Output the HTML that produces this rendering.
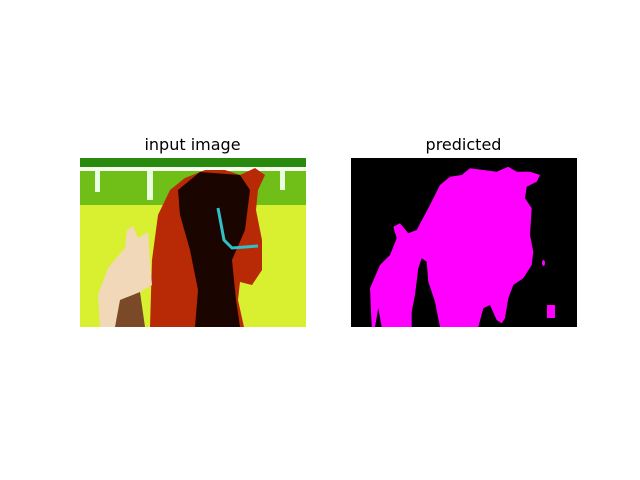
<!DOCTYPE html>
<html><head><meta charset="utf-8"><style>
body{margin:0;background:#fff;}
svg{display:block;font-family:"DejaVu Sans","Liberation Sans",sans-serif;}
</style></head><body>
<svg width="640" height="480" viewBox="0 0 640 480">
<rect width="640" height="480" fill="#fff"/>
<text x="192.5" y="150" font-size="16" text-anchor="middle">input image</text>
<text x="463.5" y="150" font-size="16" text-anchor="middle">predicted</text>
<g>
<defs><clipPath id="c1"><rect x="80" y="158" width="226" height="169"/></clipPath></defs>
<g clip-path="url(#c1)">
<rect x="80" y="158" width="226" height="169" fill="#b8e620"/>
<rect x="80" y="158" width="226" height="12" fill="#2a8a10"/>
<rect x="80" y="170" width="226" height="35" fill="#6fbf18"/>
<rect x="80" y="205" width="226" height="122" fill="#d8f030"/>
<rect x="80" y="167" width="226" height="4" fill="#f4fff0"/>
<rect x="147" y="170" width="6" height="30" fill="#e8ffe0"/>
<rect x="95" y="170" width="5" height="22" fill="#e8ffe0"/>
<rect x="280" y="170" width="5" height="20" fill="#e8ffe0"/>
<path d="M150,327 L152,260 L158,215 L170,190 L185,178 L205,170 L225,170 L240,175 L255,168 L265,175 L258,190 L256,210 L262,240 L262,270 L252,285 L240,282 L238,300 L244,327 Z" fill="#b82a05"/>
<path d="M178,190 L200,172 L240,175 L250,190 L245,230 L232,260 L236,300 L240,327 L195,327 L198,290 L190,250 L180,215 Z" fill="#1a0500"/>
<path d="M218,208 L224,240 L232,248 L258,246" stroke="#30c0c8" stroke-width="3" fill="none"/>
<path d="M100,327 L98,295 L108,268 L125,248 L127,230 L133,226 L138,238 L148,232 L150,260 L152,285 L140,292 L138,327 Z" fill="#f0d8b8"/>
<path d="M120,300 L140,292 L145,327 L115,327 Z" fill="#7a4a28"/>
</g></g>
<g>
<rect x="351" y="158" width="226" height="169" fill="#000"/>
<path d="M371.7,327 L370,288.3 L380,265 L390,255 L396.7,238.3 L393.3,226.7 L400,223.3 L408.3,233.3 L416.7,230 L430,205 L440,185 L450,176.7 L461.7,175 L470,168.3 L483.3,170 L496.7,171.7 L508.3,166.7 L516.7,171.7 L530,171.7 L540,175 L536.7,181.7 L526.7,186.7 L525,198.3 L531.7,208.3 L530,235 L533.3,251.7 L531.7,265 L523.3,278.3 L513.3,285 L508.3,298.3 L505,318.3 L501.7,323.3 L496.7,320 L490,305 L483.3,308.3 L478.3,327 L440,327 L435,301.7 L428.3,281.7 L426.7,261.7 L421.7,258.3 L418.3,268.3 L415,295 L411.7,311.7 L411.7,327 L381.7,327 L378.3,308.3 L375,327 Z" fill="#ff00ff"/>
<rect x="547" y="305" width="8" height="13" fill="#ff00ff"/>
<ellipse cx="543.5" cy="263" rx="1.5" ry="3" fill="#ff00ff"/>
</g>
</svg>
</body></html>
